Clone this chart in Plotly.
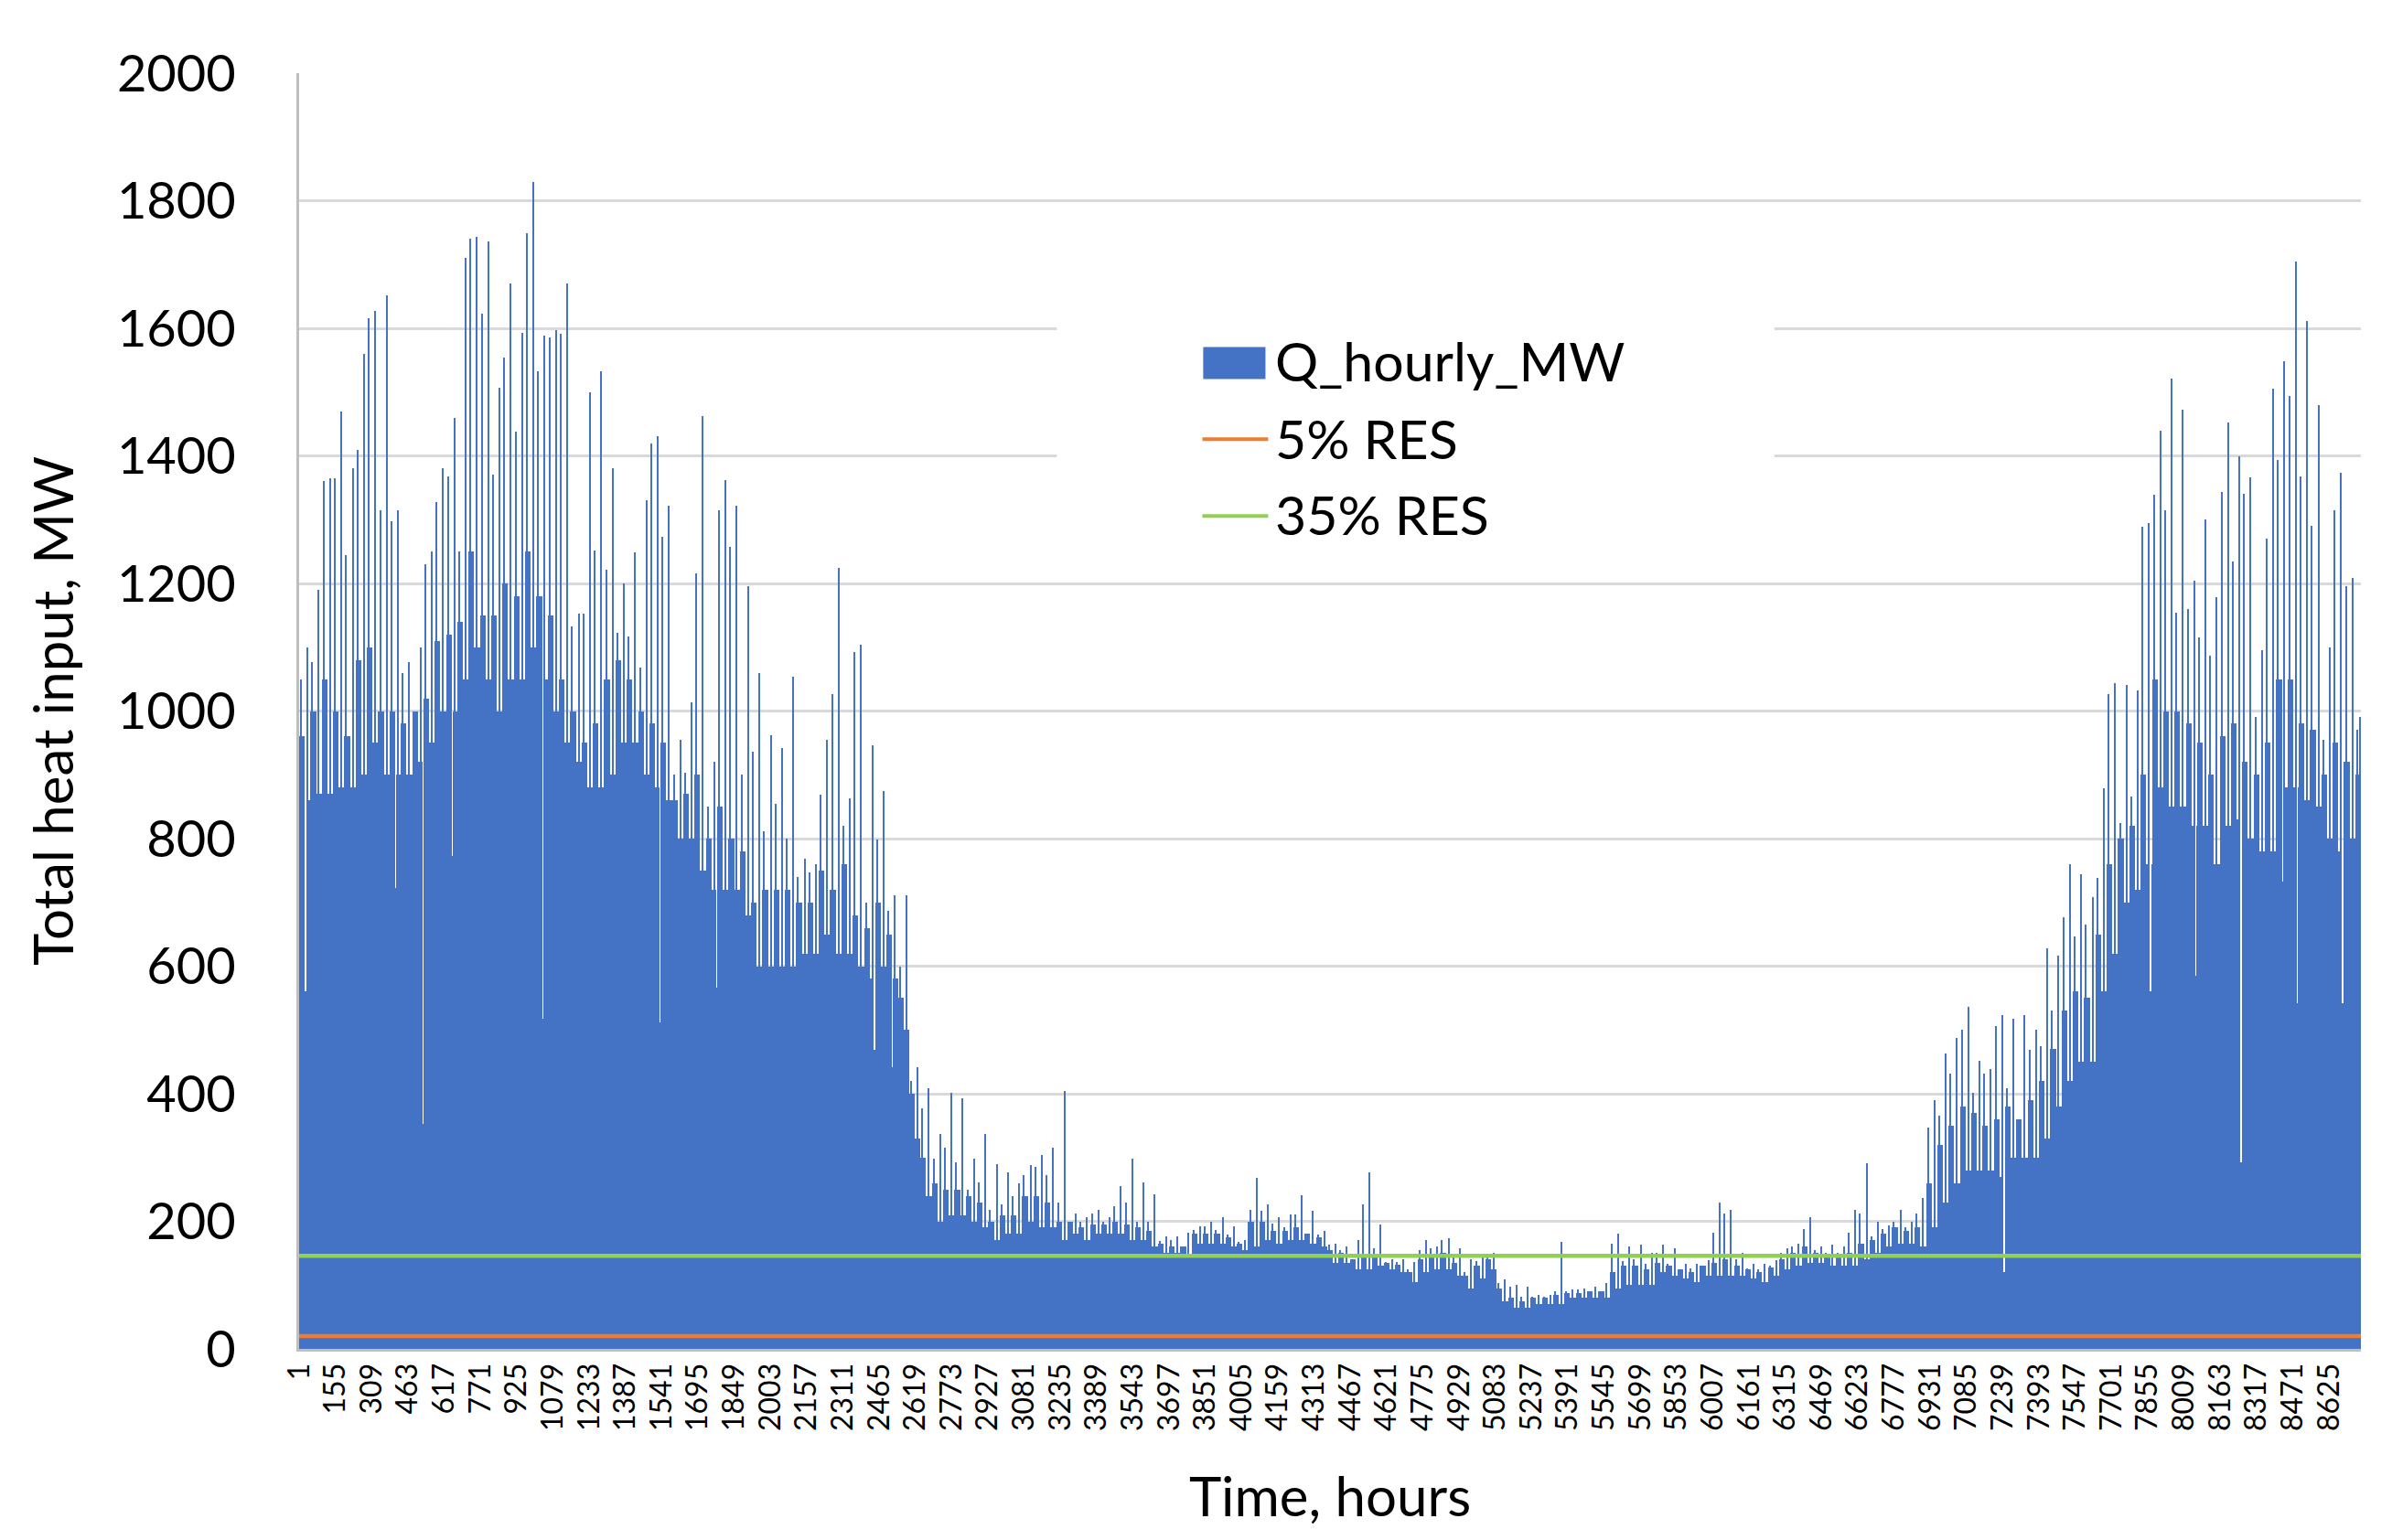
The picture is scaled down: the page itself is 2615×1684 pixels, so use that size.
import plotly.graph_objects as go

# hourly heat demand in 48-hour windows
HOURS = 8760
WINDOW = 48

# level below which the window is filled solid, MW
low_mw = [
    860, 870, 870, 880, 880, 900, 950, 900, 900, 900,
    920, 950, 1000, 1000, 1050, 1100, 1050, 1000, 1050, 1050,
    1100, 1050, 1000, 950, 920, 880, 880, 900, 950, 950,
    900, 880, 860, 800, 800, 750, 720, 720, 720, 680,
    600, 600, 600, 600, 620, 620, 650, 620, 620, 600,
    580, 600, 580, 500, 330, 240, 200, 210, 210, 200,
    190, 170, 180, 180, 200, 190, 190, 170, 180, 170,
    180, 180, 180, 170, 170, 160, 150, 150, 145, 165,
    165, 165, 160, 155, 160, 170, 165, 170, 170, 165,
    160, 135, 135, 125, 125, 130, 125, 120, 105, 120,
    125, 125, 115, 95, 110, 125, 75, 65, 65, 70,
    70, 70, 80, 80, 80, 80, 95, 100, 100, 100,
    120, 115, 110, 105, 115, 115, 115, 115, 110, 105,
    115, 125, 130, 135, 135, 130, 130, 130, 140, 150,
    160, 165, 165, 160, 190, 230, 260, 280, 280, 280,
    270, 300, 300, 300, 330, 380, 420, 450, 450, 560,
    620, 700, 720, 760, 880, 850, 850, 820, 820, 760,
    820, 830, 800, 780, 780, 880, 880, 860, 850, 800,
    780, 800, 800,
]

# typical upper level of the jagged part, MW
mid_mw = [
    960, 1000, 1050, 1000, 960, 1080, 1100, 1000, 1000, 980,
    1000, 1020, 1110, 1120, 1140, 1250, 1150, 1150, 1200, 1180,
    1250, 1180, 1150, 1050, 1000, 950, 980, 1050, 1080, 1050,
    1000, 980, 950, 860, 870, 900, 800, 850, 800, 780,
    700, 720, 720, 720, 700, 700, 750, 720, 760, 680,
    660, 700, 650, 550, 400, 300, 260, 250, 250, 240,
    230, 200, 210, 210, 240, 240, 230, 200, 200, 190,
    195, 195, 200, 195, 190, 185, 165, 160, 160, 180,
    180, 180, 175, 165, 200, 200, 185, 185, 190, 180,
    175, 155, 150, 140, 145, 145, 135, 132, 120, 140,
    145, 150, 135, 115, 130, 140, 95, 80, 75, 80,
    80, 85, 88, 88, 90, 90, 120, 130, 130, 125,
    135, 130, 125, 120, 130, 135, 140, 130, 125, 120,
    128, 140, 150, 160, 150, 145, 145, 150, 165, 170,
    180, 190, 185, 190, 260, 320, 350, 380, 370, 350,
    360, 380, 360, 390, 420, 470, 530, 560, 550, 650,
    760, 800, 820, 900, 1050, 1000, 1000, 980, 950, 900,
    960, 980, 920, 900, 950, 1050, 1050, 980, 970, 900,
    950, 920, 900,
]

# highest hour in each window, MW
peak_mw = [
    1100, 1190, 1365, 1470, 1380, 1560, 1627, 1652, 1315, 1077,
    1100, 1250, 1381, 1459, 1711, 1744, 1736, 1507, 1670, 1593,
    1829, 1588, 1597, 1670, 1152, 1500, 1532, 1381, 1200, 1249,
    1330, 1431, 1322, 955, 1014, 1462, 921, 1362, 1322, 1196,
    1059, 962, 942, 1054, 769, 760, 955, 1225, 863, 1104,
    946, 875, 711, 711, 442, 408, 337, 402, 393, 298,
    337, 289, 276, 260, 288, 304, 316, 404, 212, 206,
    218, 206, 255, 298, 261, 243, 176, 176, 182, 192,
    200, 207, 192, 170, 268, 227, 206, 211, 241, 216,
    185, 165, 160, 171, 277, 195, 141, 141, 136, 171,
    160, 173, 157, 141, 144, 150, 109, 101, 98, 85,
    85, 168, 93, 95, 98, 103, 181, 160, 163, 151,
    163, 157, 133, 133, 139, 230, 218, 151, 133, 133,
    139, 157, 165, 206, 160, 163, 160, 218, 291, 200,
    194, 218, 200, 237, 390, 463, 487, 536, 451, 438,
    524, 518, 524, 500, 628, 616, 760, 744, 708, 879,
    1044, 1041, 1032, 1295, 1439, 1521, 1472, 1205, 1300, 1179,
    1453, 1399, 1366, 1096, 1505, 1549, 1705, 1611, 1480, 1100,
    1374, 1209, 991,
]

# second highest hour in each window, MW
peak2_mw = [
    1050, 1077, 1360, 1365, 1245, 1410, 1616, 1315, 1298, 1060,
    1000, 1230, 1328, 1368, 1250, 1740, 1623, 1371, 1554, 1438,
    1749, 1533, 1585, 1591, 1132, 1152, 1252, 1222, 1123, 1117,
    1068, 1420, 1273, 900, 903, 1216, 850, 1315, 1258, 900,
    936, 812, 855, 800, 740, 747, 869, 1026, 820, 1092,
    700, 799, 687, 600, 420, 377, 298, 316, 292, 250,
    261, 218, 227, 240, 273, 286, 273, 230, 200, 200,
    212, 200, 224, 230, 200, 200, 169, 170, 160, 187,
    192, 187, 179, 168, 218, 216, 196, 190, 211, 180,
    179, 163, 155, 141, 227, 157, 136, 136, 125, 155,
    157, 171, 144, 120, 138, 149, 103, 98, 82, 82,
    82, 90, 90, 93, 90, 90, 165, 138, 141, 133,
    151, 133, 125, 126, 130, 182, 212, 140, 126, 125,
    130, 151, 160, 188, 155, 150, 150, 182, 212, 176,
    188, 200, 190, 212, 347, 365, 432, 500, 402, 432,
    506, 408, 359, 469, 475, 530, 677, 646, 665, 738,
    1027, 824, 866, 1289, 1339, 1314, 1154, 1160, 1116, 1087,
    1343, 1234, 1341, 991, 1270, 1393, 1494, 1368, 1291, 955,
    1314, 1196, 970,
]

# single low hours that cut through the solid fill
dip_hours = [26, 410, 529, 648, 1033, 1093, 1536, 1776, 1848, 1992, 2278, 2444, 2518,
             7244, 7555, 7750, 7866, 8058, 8180, 8252, 8372, 8430, 8488, 8564, 8683, 8758]
dip_mw = [560, 723, 353, 773, 518, 775, 512, 567, 518, 472, 375, 469, 442,
          120, 316, 261, 561, 585, 402, 292, 573, 732, 542, 359, 542, 420]

res_5 = 20     # MW
res_35 = 146   # MW

tick_hours = list(range(1, HOURS, 154))

BLUE = '#4472C4'
ORANGE = '#ED7D31'
GREEN = '#92D050'
FONT = 'Lato, Calibri, sans-serif'

# window geometry on the hour axis
starts = [1 + WINDOW * k for k in range(len(low_mw))]
ends = [min(s + WINDOW - 1, HOURS) for s in starts]
low_x = [(s + e) / 2 for s, e in zip(starts, ends)]
low_w = [e - s + 1 for s, e in zip(starts, ends)]
mid_x = [s - 0.5 + 12 for s in starts]
peak_x = [min(s + 35.5, e - 3) for s, e in zip(starts, ends)]
peak2_x = [s + 8 for s in starts]

# a dip is white from its own value up to the solid level of its window
dip_top = [low_mw[(h - 1) // WINDOW] for h in dip_hours]
dip_len = [t - d for t, d in zip(dip_top, dip_mw)]

fig = go.Figure()

bar_style = dict(color=BLUE, line=dict(width=0))
fig.add_trace(go.Bar(x=low_x, y=low_mw, width=low_w, name='Q_hourly_MW', marker=bar_style))
fig.add_trace(go.Bar(x=dip_hours, y=dip_len, base=dip_mw, width=4, name='dips',
                     marker=dict(color='white', line=dict(width=0))))
fig.add_trace(go.Bar(x=mid_x, y=mid_mw, width=24, name='Q_hourly_MW', marker=bar_style))
fig.add_trace(go.Bar(x=peak2_x, y=peak2_mw, width=5, name='Q_hourly_MW', marker=bar_style))
fig.add_trace(go.Bar(x=peak_x, y=peak_mw, width=5, name='Q_hourly_MW', marker=bar_style))

fig.add_trace(go.Scatter(x=[0.5, HOURS + 0.5], y=[res_5, res_5], mode='lines',
                         name='5% RES', line=dict(color=ORANGE, width=4.5)))
fig.add_trace(go.Scatter(x=[0.5, HOURS + 0.5], y=[res_35, res_35], mode='lines',
                         name='35% RES', line=dict(color=GREEN, width=4.5)))

# legend drawn by hand so the symbols can be Excel-sized
legend_items = [
    ('Q_hourly_MW', 0.7742),
    ('5% RES', 0.7133),
    ('35% RES', 0.6539),
]
shapes = [
    dict(type='rect', xref='paper', yref='paper', x0=0.3675, x1=0.7155,
         y0=0.615, y1=0.84, fillcolor='white', line=dict(width=0), layer='above'),
    dict(type='rect', xref='paper', yref='paper', x0=0.4385, x1=0.4687,
         y0=0.7602, y1=0.7853, fillcolor=BLUE, line=dict(width=0), layer='above'),
    dict(type='line', xref='paper', yref='paper', x0=0.4381, x1=0.4700,
         y0=0.7130, y1=0.7130, line=dict(color=ORANGE, width=4), layer='above'),
    dict(type='line', xref='paper', yref='paper', x0=0.4381, x1=0.4700,
         y0=0.6528, y1=0.6528, line=dict(color=GREEN, width=4), layer='above'),
]
annotations = [
    dict(text=t, x=0.4725, y=yy, xref='paper', yref='paper', xanchor='left',
         yanchor='middle', showarrow=False, font=dict(size=59, family=FONT, color='black'))
    for t, yy in legend_items
]

fig.update_layout(
    width=2615, height=1684,
    margin=dict(l=319, r=42, t=72, b=217),
    plot_bgcolor='white', paper_bgcolor='white',
    barmode='overlay', bargap=0,
    showlegend=False,
    font=dict(family=FONT, color='black'),
    shapes=shapes,
    annotations=annotations,
)

fig.update_xaxes(
    range=[0.5, HOURS + 0.5],
    tickmode='array', tickvals=tick_hours, ticktext=[str(h) for h in tick_hours],
    tickangle=-90, tickfont=dict(size=32, family=FONT),
    showgrid=False, zeroline=False,
    showline=True, linecolor='#bfbfbf', linewidth=3,
    title=dict(text='Time, hours', font=dict(size=60, family=FONT), standoff=52),
)
fig.update_yaxes(
    range=[0, 2000], dtick=200,
    tickfont=dict(size=56, family=FONT),
    gridcolor='#d9d9d9', gridwidth=3, zeroline=False,
    showline=True, linecolor='#bfbfbf', linewidth=3,
    ticklabelstandoff=55,
    title=dict(text='Total heat input, MW', font=dict(size=60, family=FONT), standoff=28),
)

fig.write_html("out.html")
